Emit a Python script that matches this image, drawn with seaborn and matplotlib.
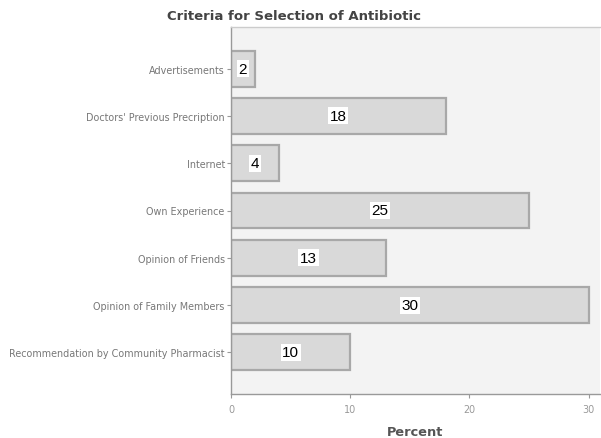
import matplotlib
matplotlib.use("Agg")
import matplotlib.pyplot as plt
import seaborn as sns
import pandas as pd

categories = [
    "Advertisements",
    "Doctors' Previous Precription",
    "Internet",
    "Own Experience",
    "Opinion of Friends",
    "Opinion of Family Members",
    "Recommendation by Community Pharmacist",
]
percent = [2, 18, 4, 25, 13, 30, 10]
x_ticks = [0, 10, 20, 30]

df = pd.DataFrame({"Criteria": categories, "Percent": percent})

sns.set_style("white")
plt.rcParams["font.family"] = ["DejaVu Sans"]

fig = plt.figure(figsize=(6.01, 4.39), dpi=100)
ax = fig.add_axes([231 / 601, 1 - 395 / 439, (600 - 231) / 601, (395 - 28) / 439])
ax.set_facecolor("#f3f3f3")

sns.barplot(data=df, x="Percent", y="Criteria", ax=ax, color="#d9d9d9",
            saturation=1, width=0.76, edgecolor="#a8a8a8", linewidth=1.6,
            orient="h")

for i, v in enumerate(percent):
    ax.text(v / 2, i, str(v), ha="center", va="center", fontsize=11,
            color="black", family="Liberation Sans",
            bbox=dict(boxstyle="square,pad=0.1", facecolor="white",
                      edgecolor="none"))

ax.set_xlim(0, 30.95)
ax.set_ylim(6.88, -0.88)
ax.set_xticks(x_ticks)
ax.set_xticklabels([str(t) for t in x_ticks])
ax.tick_params(axis="both", labelsize=6.9, length=3, width=0.8,
               colors="#999999", direction="out", pad=1.5)
ax.tick_params(axis="y", labelcolor="#777777")
ax.tick_params(axis="x", labelcolor="#999999", pad=4)
ax.xaxis.set_ticks_position("bottom")
ax.yaxis.set_ticks_position("left")

for side in ["left", "bottom"]:
    ax.spines[side].set_color("#999999")
    ax.spines[side].set_linewidth(1.0)
ax.spines["top"].set_color("#cccccc")
ax.spines["top"].set_linewidth(1.0)
ax.spines["right"].set_visible(False)

ax.set_ylabel("")
ax.set_xlabel("Percent", fontsize=9.3, fontweight="bold", color="#555555",
              labelpad=8)
fig.text(0.49, 1 - 17 / 439, "Criteria for Selection of Antibiotic",
         fontsize=9.5, fontweight="bold", color="#444444",
         ha="center", va="center")

fig.savefig("out.png", dpi=100)
